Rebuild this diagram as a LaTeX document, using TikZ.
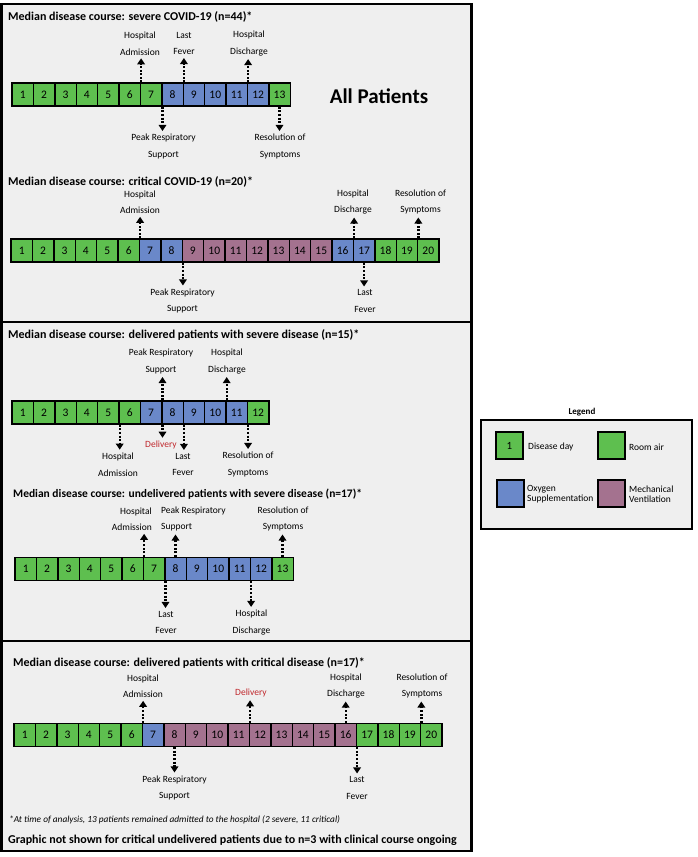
\documentclass[tikz,border=0pt]{standalone}
\usepackage{fontspec}
\setmainfont{Carlito}
\usetikzlibrary{arrows.meta}
\definecolor{cG}{HTML}{5EBF4F}
\definecolor{cB}{HTML}{6A88C9}
\definecolor{cP}{HTML}{A4728F}
\definecolor{panelgray}{HTML}{EFEFEF}
\definecolor{delred}{HTML}{C0282D}
\begin{document}
\begin{tikzpicture}[x=1pt,y=-1pt,
  day/.style={draw=black,line width=1.4pt,minimum width=21.4pt,minimum height=23pt,inner sep=0pt,font=\fontsize{11.5}{12}\selectfont},
  lbl/.style={inner sep=0pt,align=center,font=\fontsize{9.5}{16.5}\selectfont},
  ttl/.style={inner sep=0pt,anchor=west,font=\fontsize{12}{14}\selectfont\bfseries},
  arr/.style={line width=2.4pt,dash pattern=on 2pt off 1.6pt,shorten >=3pt,-{Triangle[width=7.5pt,length=6pt]}},
  panel/.style={fill=panelgray,draw=black,line width=2.3pt},
  swatch/.style={draw=black,line width=2pt,minimum width=27pt,minimum height=27pt,inner sep=0pt,font=\fontsize{11}{12}\selectfont},
  legtxt/.style={inner sep=0pt,anchor=west,align=left,font=\fontsize{9.5}{10}\selectfont},
]
\useasboundingbox (0,0) rectangle (697,857);
\fill[white] (0,0) rectangle (697,857);
% panels
\draw[panel] (1.5,4) rectangle (471.5,322);
\draw[panel] (1.5,322) rectangle (471.5,641);
\draw[panel] (1.5,641) rectangle (471.5,851);

% ---------- Panel a: severe ----------
\node[ttl] (ta) at (8,17) {Median disease course: severe COVID-19 (n=44)*};
\foreach \col [count=\i] in {G,G,G,G,G,G,G,B,B,B,B,B,G}
  \node[day,fill=c\col] (a\i) at ({12+(\i-0.5)*21.4},94.5) {\i};
\node[inner sep=0pt,font=\fontsize{21}{24}\selectfont\bfseries] (allp) at (379,96) {All Patients};
\node[lbl] (aAdm) at (140,43.5) {Hospital\\Admission};
\node[lbl] (aFev) at (184,43.5) {Last\\Fever};
\node[lbl] (aDis) at (249,43.5) {Hospital\\Discharge};
\node[lbl] (aPeak) at (163.5,146.5) {Peak Respiratory\\Support};
\node[lbl] (aRes) at (280,146.5) {Resolution of\\Symptoms};
\draw[arr] (a6.north east) -- (a6.north east |- aAdm.south);
\draw[arr] (a8.north east) -- (a8.north east |- aFev.south);
\draw[arr] (a11.north east) -- (a11.north east |- aDis.south);
\draw[arr] (a7.south east) -- (a7.south east |- aPeak.north);
\draw[arr] (a13.south) -- (a13.south |- aRes.north);

% ---------- Panel b: critical ----------
\node[ttl] (tb) at (8,182) {Median disease course: critical COVID-19 (n=20)*};
\foreach \col [count=\i] in {G,G,G,G,G,G,B,B,P,P,P,P,P,P,P,B,B,G,G,G}
  \node[day,fill=c\col] (b\i) at ({11+(\i-0.5)*21.4},250.5) {\i};
\node[lbl] (bAdm) at (140,202) {Hospital\\Admission};
\node[lbl] (bDis) at (353,202) {Hospital\\Discharge};
\node[lbl] (bRes) at (420.5,202) {Resolution of\\Symptoms};
\node[lbl] (bPeak) at (182.5,301) {Peak Respiratory\\Support};
\node[lbl] (bFev) at (365,301) {Last\\Fever};
\draw[arr] (b6.north east) -- (b6.north east |- bAdm.south);
\draw[arr] (b16.north east) -- (b16.north east |- bDis.south);
\draw[arr] (b19.north east) -- (b19.north east |- bRes.south);
\draw[arr] (b8.south east) -- (b8.south east |- bPeak.north);
\draw[arr] (b17.south) -- (b17.south |- bFev.north);

% ---------- Panel c: delivered severe ----------
\node[ttl] (tc) at (8,335) {Median disease course: delivered patients with severe disease (n=15)*};
\foreach \col [count=\i] in {G,G,G,G,G,G,B,B,B,B,B,G}
  \node[day,fill=c\col] (c\i) at ({12+(\i-0.5)*21.4},412.5) {\i};
\node[lbl] (cPeak) at (161,361.5) {Peak Respiratory\\Support};
\node[lbl] (cDis) at (227,361.5) {Hospital\\Discharge};
\node[lbl] (cAdm) at (118,464.5) {Hospital\\Admission};
\node[lbl,text=delred] (cDel) at (161,445) {Delivery};
\node[lbl] (cFev) at (183,464.5) {Last\\Fever};
\node[lbl] (cRes) at (248,464.5) {Resolution of\\Symptoms};
\draw[arr] (c7.north east) -- (c7.north east |- cPeak.south);
\draw[arr] (c10.north east) -- (c10.north east |- cDis.south);
\draw[arr] (c5.south east) -- (c5.south east |- cAdm.north);
\draw[arr] (c7.south east) -- (c7.south east |- cDel.north);
\draw[arr] (c8.south east) -- (c8.south east |- cFev.north);
\draw[arr] (c11.south east) -- (c11.south east |- cRes.north);

% ---------- Panel d: undelivered severe ----------
\node[ttl,font=\fontsize{11.5}{14}\selectfont\bfseries] (td) at (13,494) {Median disease course: undelivered patients with severe disease (n=17)*};
\foreach \col [count=\i] in {G,G,G,G,G,G,G,B,B,B,B,B,G}
  \node[day,fill=c\col] (d\i) at ({15+(\i-0.5)*21.4},569) {\i};
\node[lbl,align=right,anchor=east] (dAdm) at (152,519) {Hospital\\Admission};
\node[lbl,align=left,anchor=west] (dPeak) at (161,519) {Peak Respiratory\\Support};
\node[lbl] (dRes) at (283,519) {Resolution of\\Symptoms};
\node[lbl] (dFev) at (166,622.5) {Last\\Fever};
\node[lbl] (dDis) at (251.5,622.5) {Hospital\\Discharge};
\draw[arr] (d6.north east) -- (d6.north east |- dAdm.south);
\draw[arr] (d8.north) -- (d8.north |- dPeak.south);
\draw[arr] (d13.north) -- (d13.north |- dRes.south);
\draw[arr] (d7.south east) -- (d7.south east |- dFev.north);
\draw[arr] (d11.south east) -- (d11.south east |- dDis.north);

% ---------- Panel e: delivered critical ----------
\node[ttl] (te) at (13,663) {Median disease course: delivered patients with critical disease (n=17)*};
\foreach \col [count=\i] in {G,G,G,G,G,G,B,P,P,P,P,P,P,P,P,P,G,G,G,G}
  \node[day,fill=c\col] (e\i) at ({14+(\i-0.5)*21.4},735) {\i};
\node[lbl] (eAdm) at (143,686) {Hospital\\Admission};
\node[lbl,text=delred] (eDel) at (251,693) {Delivery};
\node[lbl] (eDis) at (346,686) {Hospital\\Discharge};
\node[lbl] (eRes) at (422,686) {Resolution of\\Symptoms};
\node[lbl] (ePeak) at (174.5,788) {Peak Respiratory\\Support};
\node[lbl] (eFev) at (357,788) {Last\\Fever};
\draw[arr] (e6.north east) -- (e6.north east |- eAdm.south);
\draw[arr] (e11.north east) -- (e11.north east |- eDel.south);
\draw[arr] (e16.north) -- (e16.north |- eDis.south);
\draw[arr] (e19.north east) -- (e19.north east |- eRes.south);
\draw[arr] (e8.south) -- (e8.south |- ePeak.north);
\draw[arr] (e16.south east) -- (e16.south east |- eFev.north);

\node[inner sep=0pt,anchor=west,font=\fontsize{9.3}{10}\selectfont\itshape] (foot) at (9,820) {*At time of analysis, 13 patients remained admitted to the hospital (2 severe, 11 critical)};
\node[inner sep=0pt,anchor=west,font=\fontsize{12}{13}\selectfont\bfseries] (note) at (8,840) {Graphic not shown for critical undelivered patients due to n=3 with clinical course ongoing};

% ---------- Legend ----------
\node[inner sep=0pt,font=\fontsize{9}{10}\selectfont\bfseries] (legt) at (582,412) {Legend};
\draw[fill=panelgray,draw=black,line width=2pt] (481,420) rectangle (692,529);
\node[swatch,fill=cG] (sw1) at (509.5,445.5) {1};
\node[legtxt] (lt1) at (528,447) {Disease day};
\node[swatch,fill=cG] (sw2) at (611.5,445.5) {};
\node[legtxt] (lt2) at (629,447) {Room air};
\node[swatch,fill=cB] (sw3) at (510.5,493) {};
\node[legtxt] (lt3) at (527,494) {Oxygen\\Supplementation};
\node[swatch,fill=cP] (sw4) at (611.5,493) {};
\node[legtxt] (lt4) at (629,494) {Mechanical\\Ventilation};
\end{tikzpicture}
\end{document}
